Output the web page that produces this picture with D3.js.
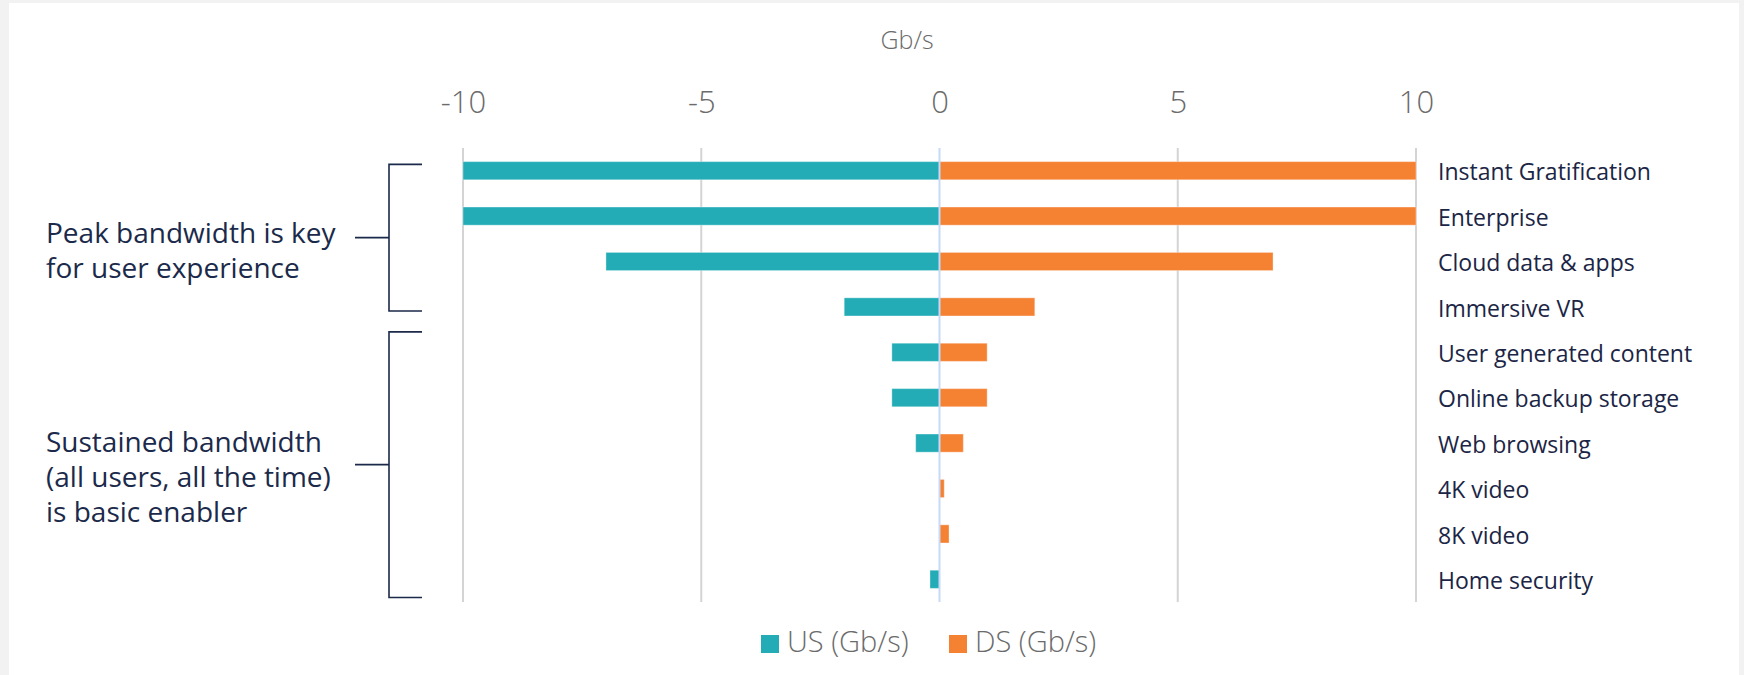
<!DOCTYPE html>
<html>
<head>
<meta charset="utf-8">
<script src="https://cdn.jsdelivr.net/npm/d3@7"></script>
<style>
  html, body { margin: 0; padding: 0; background: #f2f2f2; }
  svg { display: block; }
  text { font-family: "Open Sans", "Noto Sans", sans-serif; }
</style>
</head>
<body>
<svg id="chart" width="1744" height="675"></svg>
<script>
// Applications and their upstream / downstream bandwidth needs (Gb/s)
const categories = [
  "Instant Gratification",
  "Enterprise",
  "Cloud data & apps",
  "Immersive VR",
  "User generated content",
  "Online backup storage",
  "Web browsing",
  "4K video",
  "8K video",
  "Home security"
];
const usValues = [-10, -10, -7, -2, -1, -1, -0.5, 0, 0, -0.2];
const dsValues = [10, 10, 7, 2, 1, 1, 0.5, 0.1, 0.2, 0];
const tickValues = [-10, -5, 0, 5, 10];
const seriesNames = ["US (Gb/s)", "DS (Gb/s)"];
const seriesColors = ["#23acb6", "#f58233"];

// Bracketed annotations: first and last category of each group
const groups = [
  { from: 0, to: 3, lines: ["Peak bandwidth is key", "for user experience"] },
  { from: 4, to: 9, lines: ["Sustained bandwidth", "(all users, all the time)", "is basic enabler"] }
];

const svg = d3.select("#chart");
const W = 1744, H = 675;

// white card
svg.append("rect").attr("x", 9).attr("y", 3).attr("width", 1730).attr("height", H - 3).attr("fill", "#ffffff");

const x = d3.scaleLinear().domain([-10, 10]).range([463, 1416]);
const y = d3.scaleBand().domain(categories).range([148, 602]).paddingInner(0.6).paddingOuter(0.3);
const rowY = d => y(d) + y.bandwidth() / 2;
const step = y.step();

// vertical gridlines (no line at zero; that is the baseline)
svg.append("g").selectAll("line")
  .data(tickValues.filter(t => t !== 0))
  .join("line")
  .attr("x1", d => x(d)).attr("x2", d => x(d))
  .attr("y1", 148).attr("y2", 602)
  .attr("stroke", "#d4d4d4").attr("stroke-width", 2);

// top axis tick labels, plain hyphen for negatives
const axis = d3.axisTop(x).tickValues(tickValues).tickSize(0).tickPadding(0).tickFormat(d => String(d));
const ax = svg.append("g").attr("transform", "translate(0,113)").call(axis);
ax.select(".domain").remove();
ax.selectAll("text")
  .attr("fill", "#6b6b6b")
  .attr("font-size", 31)
  .attr("font-weight", 300)
  .attr("dy", 0)
  .style("font-family", "'Open Sans', 'Noto Sans', sans-serif");

// axis title
svg.append("text").attr("x", 907).attr("y", 49)
  .attr("text-anchor", "middle").attr("font-size", 25).attr("font-weight", 300)
  .attr("fill", "#6b6b6b").text("Gb/s");

// bars
const bars = svg.append("g");
[usValues, dsValues].forEach((vals, si) => {
  bars.selectAll(null)
    .data(categories.map((c, i) => ({ c, v: vals[i] })).filter(d => d.v !== 0))
    .join("rect")
    .attr("x", d => x(Math.min(0, d.v)))
    .attr("width", d => Math.abs(x(d.v) - x(0)))
    .attr("y", d => y(d.c))
    .attr("height", y.bandwidth())
    .attr("fill", seriesColors[si])
    .attr("stroke", "#ffffff").attr("stroke-opacity", 0.35).attr("stroke-width", 1);
});

// zero baseline
svg.append("line")
  .attr("x1", x(0)).attr("x2", x(0)).attr("y1", 148).attr("y2", 602)
  .attr("stroke", "#c6d9f8").attr("stroke-width", 2);

// category labels on the right
svg.append("g").selectAll("text")
  .data(categories)
  .join("text")
  .attr("x", 1438)
  .attr("y", d => rowY(d))
  .attr("dy", "0.42em")
  .attr("font-size", 23)
  .attr("fill", "#1b2545")
  .text(d => d);

// brackets with annotation text
const navy = "#1b2a4a";
const bx = 389, bxEnd = 422, tickX = 355;
const lh = 35;
// how far each bracket reaches above its first row / below its last row, in row steps
const bracketReach = [[0.14, 0.09], [0.45, 0.4]];
groups.forEach((g, gi) => {
  const top = rowY(categories[g.from]) - step * bracketReach[gi][0];
  const bottom = rowY(categories[g.to]) + step * bracketReach[gi][1];
  const mid = (top + bottom) / 2;
  svg.append("path")
    .attr("d", `M${bxEnd},${top}H${bx}V${bottom}H${bxEnd}M${tickX},${mid}H${bx}`)
    .attr("fill", "none").attr("stroke", navy).attr("stroke-width", 1.6);
  const n = g.lines.length;
  const first = mid + 5 - (n - 2) * lh / 2;
  const t = svg.append("text").attr("x", 46).attr("font-size", 28).attr("fill", navy);
  g.lines.forEach((ln, i) => {
    t.append("tspan").attr("x", 46).attr("y", first + i * lh).text(ln);
  });
});

// legend
const legend = svg.append("g");
const legendX = [761, 949];
seriesNames.forEach((name, i) => {
  const lx = legendX[i];
  legend.append("rect").attr("x", lx).attr("y", 635).attr("width", 18).attr("height", 18).attr("fill", seriesColors[i]);
  legend.append("text").attr("x", lx + 26).attr("y", 652)
    .attr("font-size", 29).attr("font-weight", 300).attr("fill", "#6b6b6b").text(name);
});
</script>
</body>
</html>
